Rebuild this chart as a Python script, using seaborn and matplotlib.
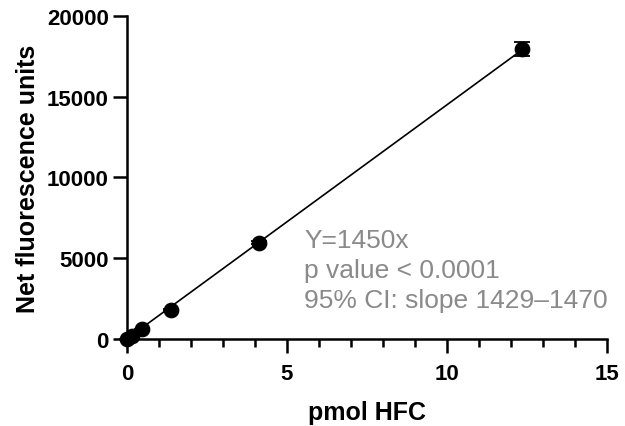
import matplotlib
matplotlib.use("Agg")
import matplotlib.pyplot as plt
import seaborn as sns
import numpy as np
import pandas as pd
from matplotlib.ticker import MultipleLocator

sns.set_theme(style="ticks")
plt.rcParams['font.family'] = ['Liberation Sans', 'DejaVu Sans']
plt.rcParams['text.color'] = 'black'
plt.rcParams['axes.labelcolor'] = 'black'
plt.rcParams['xtick.color'] = 'black'
plt.rcParams['ytick.color'] = 'black'

# Standard curve: HFC amount vs net fluorescence
pmol_hfc = [0.0, 0.15, 0.46, 1.37, 4.12, 12.35]
net_fluorescence = [0, 200, 600, 1800, 5950, 17950]
fluorescence_sd = [20, 30, 40, 60, 100, 450]
slope = 1450
fit_text = ["Y=1450x", "p value < 0.0001", "95% CI: slope 1429\u20131470"]

df = pd.DataFrame({"pmol HFC": pmol_hfc, "Net fluorescence units": net_fluorescence})

fig = plt.figure(figsize=(6.25, 4.27), dpi=100)
ax = fig.add_axes([0.203, 0.204, 0.768, 0.756])

# Linear fit through the origin
fit_x = np.array([0.0, max(pmol_hfc)])
sns.lineplot(x=fit_x, y=slope * fit_x, ax=ax, color="black", linewidth=1.2, zorder=2)

ax.errorbar(pmol_hfc, net_fluorescence, yerr=fluorescence_sd, fmt="none",
            ecolor="black", elinewidth=1.3, capsize=6, capthick=1.3, zorder=3)
sns.scatterplot(data=df, x="pmol HFC", y="Net fluorescence units", ax=ax,
                color="black", s=110, edgecolor="black", zorder=4, legend=False)

ax.set_xlim(0, 15)
ax.set_ylim(0, 20000)
ax.xaxis.set_major_locator(MultipleLocator(5))
ax.xaxis.set_minor_locator(MultipleLocator(1))
ax.yaxis.set_major_locator(MultipleLocator(5000))
for s in ["top", "right"]:
    ax.spines[s].set_visible(False)
for s in ["left", "bottom"]:
    ax.spines[s].set_linewidth(1.8)
    ax.spines[s].set_color("black")
ax.tick_params(which="major", length=10, width=1.8, labelsize=16, color="black", labelcolor="black")
ax.tick_params(which="minor", length=6, width=1.8, color="black")
ax.tick_params(axis="x", which="major", pad=7)
ax.tick_params(axis="y", which="major", pad=3)
for lbl in ax.get_xticklabels() + ax.get_yticklabels():
    lbl.set_fontweight("bold")
ax.set_xlabel("pmol HFC", fontsize=18, fontweight="bold", labelpad=12, color="black")
ax.set_ylabel("Net fluorescence units", fontsize=18, fontweight="bold", labelpad=5, color="black")
for coll in ax.collections:
    coll.set_clip_on(False)
for ln in ax.lines:
    ln.set_clip_on(False)

ax.text(5.55, 4250, "\n".join(fit_text), fontsize=19, color="#8a8a8a",
        ha="left", va="center", linespacing=1.32)

fig.savefig("out.png", dpi=100)
